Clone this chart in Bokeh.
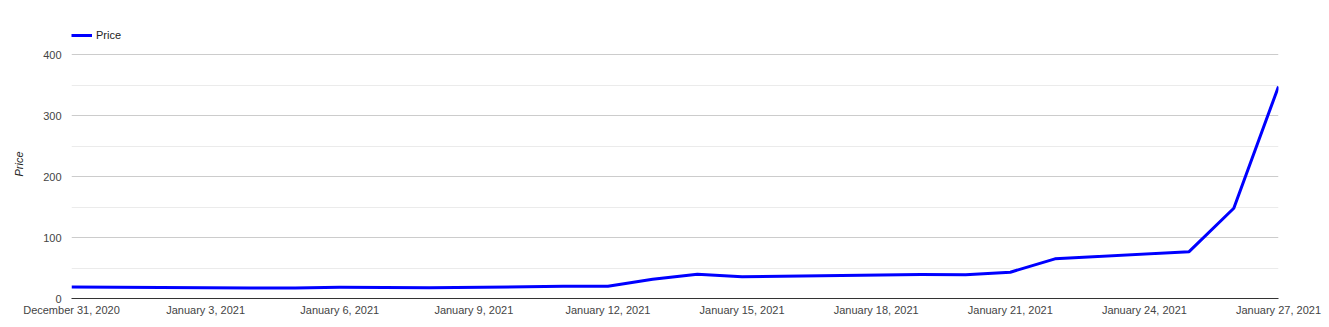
import pandas as pd
from bokeh.plotting import figure
from bokeh.models import FixedTicker, Legend, LegendItem, Range1d
from bokeh.embed import file_html
from bokeh.resources import INLINE

dates = ["2020-12-31", "2021-01-04", "2021-01-05", "2021-01-06", "2021-01-07",
         "2021-01-08", "2021-01-11", "2021-01-12", "2021-01-13", "2021-01-14",
         "2021-01-15", "2021-01-19", "2021-01-20", "2021-01-21", "2021-01-22",
         "2021-01-25", "2021-01-26", "2021-01-27"]
price = [18.84, 17.25, 17.37, 18.36, 18.08, 17.69, 19.94, 19.95, 31.40, 39.91,
         35.50, 39.36, 39.12, 43.03, 65.01, 76.79, 147.98, 347.51]
tick_labels = ["December 31, 2020", "January 3, 2021", "January 6, 2021",
               "January 9, 2021", "January 12, 2021", "January 15, 2021",
               "January 18, 2021", "January 21, 2021", "January 24, 2021",
               "January 27, 2021"]
y_ticks = [0, 100, 200, 300, 400]
y_minor = [50, 150, 250, 350]

start = pd.Timestamp(dates[0])
x = [(pd.Timestamp(d) - start).days for d in dates]
x_ticks = [(pd.Timestamp(lbl) - start).days for lbl in tick_labels]

FONT = "Liberation Sans"

# frame extends above the 400 gridline so the legend can sit inside it
FRAME_H = 269
Y_TOP = 400 * FRAME_H / 244

p = figure(frame_width=1207, frame_height=FRAME_H, output_backend="svg",
           toolbar_location=None, min_border_left=71, min_border_right=51,
           min_border_top=29, min_border_bottom=29,
           x_range=Range1d(x_ticks[0], x_ticks[-1]), y_range=Range1d(0, Y_TOP))
p.outline_line_color = None
p.background_fill_color = "white"
p.border_fill_color = "white"

r = p.line(x, price, line_color="#0000ff", line_width=3, line_join="round")

# x axis
xa = p.xaxis[0]
xa.ticker = FixedTicker(ticks=x_ticks)
xa.major_label_overrides = {t: l for t, l in zip(x_ticks, tick_labels)}
xa.major_tick_line_color = None
xa.minor_tick_line_color = None
xa.major_tick_out = 0
xa.minor_tick_out = 0
xa.axis_line_color = "#333333"
xa.axis_line_width = 1
xa.major_label_text_font = FONT
xa.major_label_text_font_size = "11px"
xa.major_label_text_color = "#444444"
xa.major_label_standoff = 5
p.xgrid.visible = False

# y axis
ya = p.yaxis[0]
ya.ticker = FixedTicker(ticks=y_ticks, minor_ticks=y_minor)
ya.major_tick_line_color = None
ya.minor_tick_line_color = None
ya.major_tick_out = 0
ya.minor_tick_out = 0
ya.axis_line_color = None
ya.major_label_text_font = FONT
ya.major_label_text_font_size = "11px"
ya.major_label_text_color = "#444444"
ya.major_label_standoff = 10
ya.axis_label = "Price"
ya.axis_label_text_font = FONT
ya.axis_label_text_font_size = "11px"
ya.axis_label_text_font_style = "italic"
ya.axis_label_text_color = "#222222"
ya.axis_label_standoff = 15

g = p.ygrid[0]
g.grid_line_color = "#cccccc"
g.minor_grid_line_color = "#ebebeb"

legend = Legend(items=[LegendItem(label="Price", renderers=[r])],
                location=(0, FRAME_H - 12), padding=0, margin=0, spacing=0,
                glyph_width=21, glyph_height=12, label_height=12,
                label_standoff=4, border_line_color=None,
                background_fill_alpha=0,
                label_text_font=FONT, label_text_font_size="11px",
                label_text_color="#222222")
p.add_layout(legend)

open("out.html", "w").write(file_html(p, INLINE))
